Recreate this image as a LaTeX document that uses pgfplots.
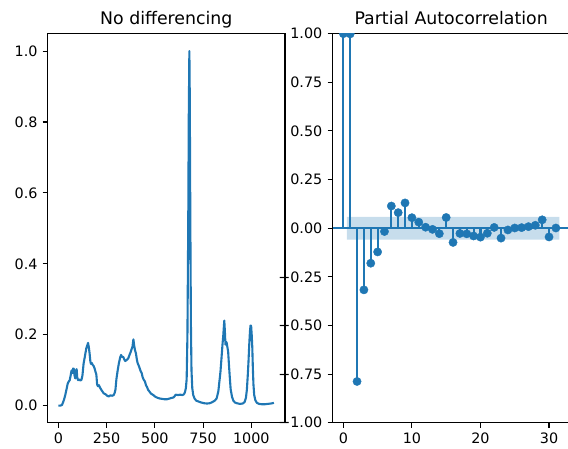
\documentclass[border=0pt]{standalone}
\usepackage{pgfplots}
\pgfplotsset{compat=1.18}
\usepackage{fontspec}
\setmainfont{DejaVu Sans}
\definecolor{c0}{HTML}{1F77B4}
\begin{document}
\begin{tikzpicture}
\pgfplotsset{
  mystyle/.style={
    scale only axis,
    width=237.3bp, height=389bp,
    anchor=south west,
    axis line style={black, line width=1.1bp},
    tick pos=left,
    tick align=outside,
    major tick length=5bp,
    every tick/.style={black, line width=1.1bp},
    tick label style={font=\fontsize{14.4}{16}\selectfont, text=black},
    xticklabel style={inner sep=0pt, yshift=-5bp, anchor=north},
    yticklabel style={inner sep=0pt, xshift=-5bp, anchor=east},
    title style={font=\fontsize{17.4}{20}\selectfont, at={(0.5,1)}, anchor=base, yshift=3.5bp, inner sep=0pt},
  }
}
\begin{axis}[mystyle,
  at={(47.7bp,26.3bp)},
  title={No differencing},
  xmin=-55, xmax=1174.5, ymin=-0.048, ymax=1.049,
  xtick={0,250,500,750,1000}, xticklabels={0,250,500,750,1000},
  ytick={0,0.2,0.4,0.6,0.8,1.0}, yticklabels={0.0,0.2,0.4,0.6,0.8,1.0},
]
\addplot[c0, line width=2.1bp, line join=round] coordinates {
(0,0.000)(10,0.000)(19,0.002)(25,0.010)(30,0.018)(36,0.030)(42,0.045)(49,0.063)
(54,0.068)(59,0.072)(64,0.085)(68,0.098)(71,0.100)(74,0.092)(77,0.105)(80,0.104)
(84,0.085)(88,0.077)(92,0.100)(95,0.103)(98,0.080)(102,0.072)(108,0.074)(114,0.071)
(120,0.073)(125,0.085)(131,0.119)(138,0.140)(145,0.162)(150,0.170)(154,0.177)(158,0.165)
(162,0.148)(166,0.125)(169,0.118)(174,0.120)(178,0.115)(183,0.112)(188,0.105)(193,0.095)
(197,0.088)(201,0.060)(205,0.055)(210,0.058)(218,0.049)(226,0.042)(235,0.035)(245,0.032)
(253,0.028)(261,0.026)(270,0.029)(280,0.028)(287,0.030)(292,0.036)(296,0.045)(301,0.075)
(308,0.101)(314,0.120)(320,0.135)(325,0.143)(330,0.138)(337,0.137)(342,0.130)(347,0.126)
(352,0.128)(357,0.130)(363,0.134)(368,0.142)(374,0.150)(380,0.160)(384,0.165)(389,0.187)
(393,0.170)(397,0.157)(402,0.148)(407,0.130)(411,0.120)(415,0.115)(420,0.108)(426,0.098)
(432,0.092)(437,0.080)(442,0.074)(449,0.068)(454,0.058)(460,0.052)(466,0.044)(472,0.040)
(480,0.034)(492,0.030)(503,0.025)(515,0.022)(527,0.020)(540,0.019)(552,0.018)(562,0.018)
(575,0.020)(588,0.022)(596,0.023)(603,0.027)(608,0.031)(620,0.030)(632,0.031)(642,0.030)
(648,0.031)(653,0.034)(657,0.040)(661,0.050)(665,0.075)(669,0.200)(673,0.500)(676,0.820)
(679,1.000)(681,0.880)(684,0.520)(687,0.230)(690,0.100)(694,0.050)(699,0.030)(706,0.020)
(715,0.014)(725,0.012)(740,0.009)(755,0.007)(770,0.006)(785,0.007)(798,0.010)(810,0.014)
(820,0.020)(829,0.040)(835,0.070)(840,0.095)(846,0.138)(851,0.175)(855,0.200)(858,0.225)
(860,0.240)(863,0.210)(866,0.172)(869,0.180)(872,0.178)(876,0.165)(880,0.152)(883,0.125)
(886,0.100)(890,0.068)(893,0.046)(900,0.025)(907,0.014)(915,0.009)(925,0.007)(940,0.005)
(955,0.006)(965,0.010)(972,0.022)(977,0.045)(981,0.080)(985,0.120)(989,0.170)(993,0.210)
(996,0.226)(999,0.225)(1002,0.200)(1005,0.165)(1008,0.105)(1011,0.060)(1015,0.030)(1021,0.015)
(1029,0.008)(1040,0.005)(1055,0.004)(1070,0.004)(1085,0.005)(1100,0.006)(1110,0.007)(1117,0.008)
};
\end{axis}
\begin{axis}[mystyle,
  at={(332.5bp,26.3bp)},
  title={Partial Autocorrelation},
  xmin=-1.58, xmax=33.03, ymin=-1, ymax=1,
  xtick={0,10,20,30}, xticklabels={0,10,20,30},
  ytick={-1,-0.75,-0.5,-0.25,0,0.25,0.5,0.75,1},
  yticklabels={−1.00,−0.75,−0.50,−0.25,0.00,0.25,0.50,0.75,1.00},
  clip marker paths=true,
]
\addplot[ycomb, c0, line width=2.1bp, mark=none] coordinates {
(0,1.000)(1,0.999)(2,-0.788)(3,-0.317)(4,-0.180)(5,-0.122)(6,-0.017)(7,0.114)
(8,0.080)(9,0.130)(10,0.054)(11,0.031)(12,0.005)(13,-0.006)(14,-0.028)(15,0.055)
(16,-0.073)(17,-0.027)(18,-0.029)(19,-0.040)(20,-0.046)(21,-0.026)(22,0.004)(23,-0.051)
(24,-0.009)(25,0.001)(26,0.003)(27,0.008)(28,0.015)(29,0.043)(30,-0.045)(31,0.001)
};
\addplot[c0, line width=2.1bp, mark=none, forget plot] coordinates {(-1.58,0)(33.03,0)};
\addplot[only marks, mark=*, mark size=4.15bp, mark options={c0, draw=c0, fill=c0}] coordinates {
(0,1.000)(1,0.999)(2,-0.788)(3,-0.317)(4,-0.180)(5,-0.122)(6,-0.017)(7,0.114)
(8,0.080)(9,0.130)(10,0.054)(11,0.031)(12,0.005)(13,-0.006)(14,-0.028)(15,0.055)
(16,-0.073)(17,-0.027)(18,-0.029)(19,-0.040)(20,-0.046)(21,-0.026)(22,0.004)(23,-0.051)
(24,-0.009)(25,0.001)(26,0.003)(27,0.008)(28,0.015)(29,0.043)(30,-0.045)(31,0.001)
};
\addplot[fill=c0, fill opacity=0.25, draw=none] coordinates {
(0.5,-0.0586)(31.5,-0.0586)(31.5,0.0586)(0.5,0.0586)(0.5,-0.0586)
};
\end{axis}
\pgfresetboundingbox
\useasboundingbox (0,0) rectangle (568bp,449bp);
\end{tikzpicture}
\end{document}
